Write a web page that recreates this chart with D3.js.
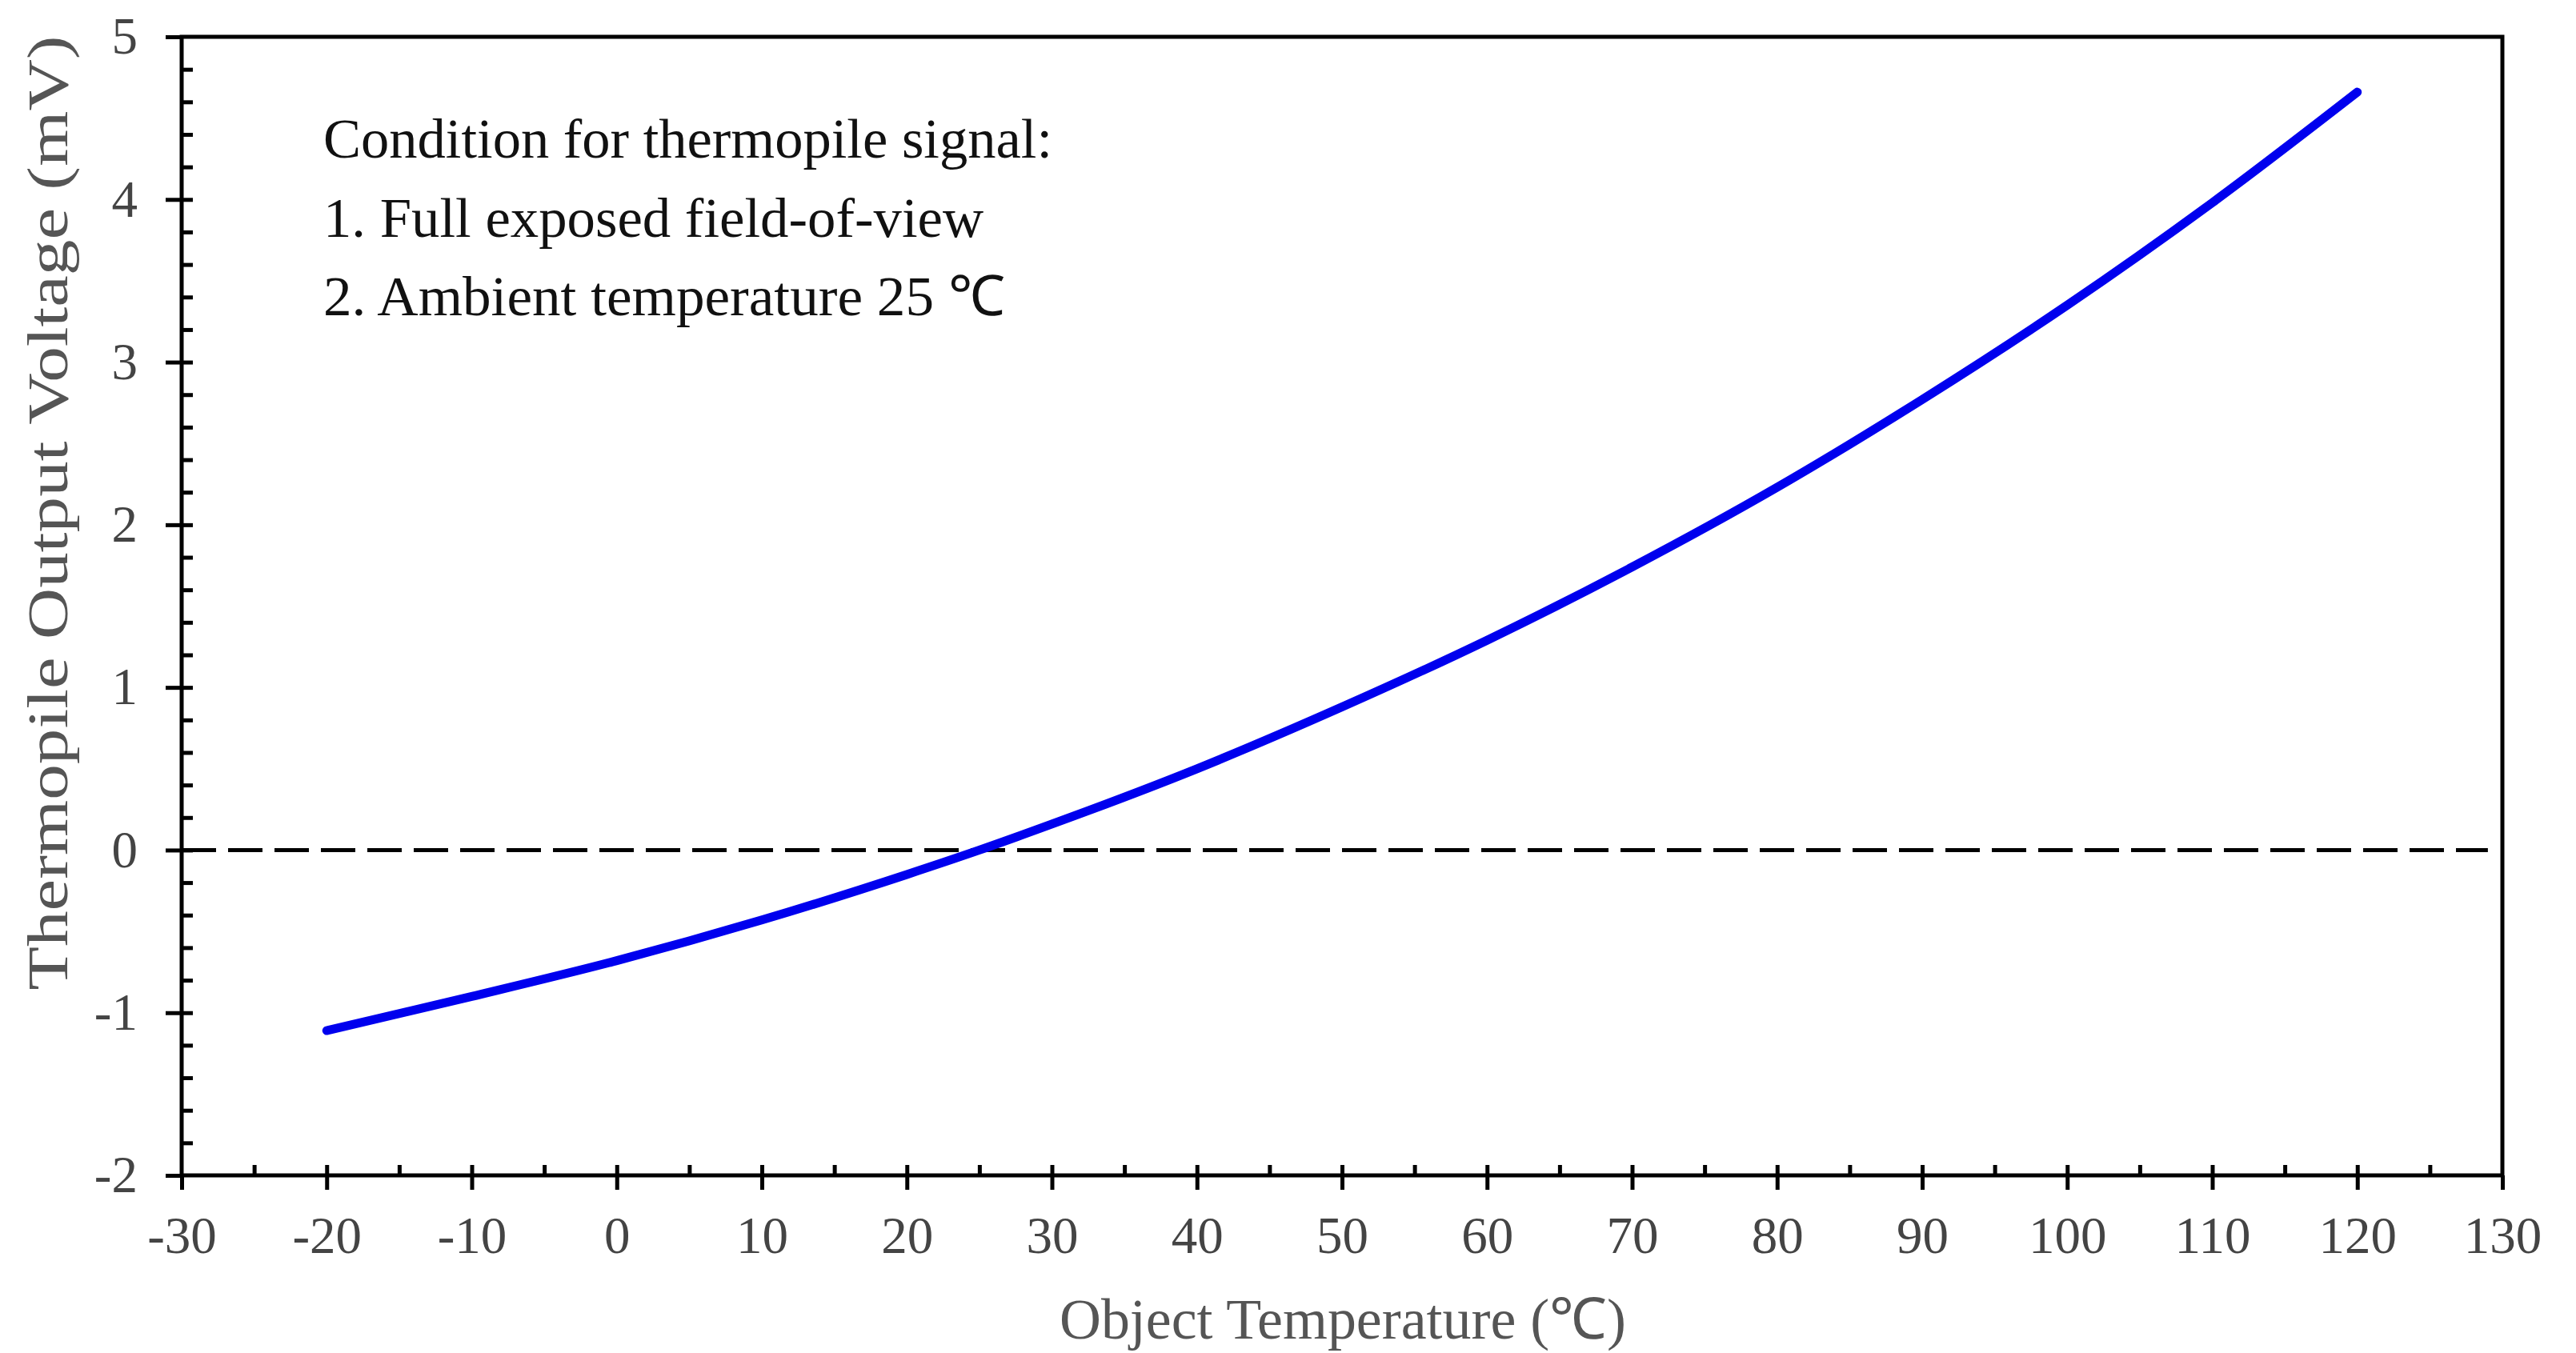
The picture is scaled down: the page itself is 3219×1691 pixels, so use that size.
<!DOCTYPE html>
<html><head><meta charset="utf-8">
<script src="https://cdn.jsdelivr.net/npm/d3@7"></script>
<style>body{margin:0;background:#fff}svg{display:block}</style>
</head><body>
<script>
// ---- data ----
const temps   = [-20, -10, 0, 10, 20, 25, 30, 40, 50, 60, 70, 80, 90, 100, 110, 120];
const voltage = [-1.11, -0.90, -0.68, -0.43, -0.15, 0.0, 0.16, 0.50, 0.88, 1.29, 1.74, 2.23, 2.77, 3.35, 3.98, 4.66];
const xTicks = [-30, -20, -10, 0, 10, 20, 30, 40, 50, 60, 70, 80, 90, 100, 110, 120, 130];
const yTicks = [-2, -1, 0, 1, 2, 3, 4, 5];
const notes = ["Condition for thermopile signal:", "1. Full exposed field-of-view", "2. Ambient temperature 25 \u2103"];
const xTitle = "Object Temperature (\u2103)";
const yTitle = "Thermopile Output Voltage (mV)";

const W = 3219, H = 1691;
const L = 227, R = 3127, T = 46, B = 1469;
const svg = d3.select("body").append("svg").attr("width", W).attr("height", H);

const x = d3.scaleLinear().domain([-30, 130]).range([L, R]);
const y = d3.scaleLinear().domain([-2, 5]).range([B, T]);
const serif = "'Liberation Serif','Times New Roman',serif";
const fmt = d => String(d);

const xMinor = d3.range(-25, 130, 10);
const yMinor = d3.range(-2, 5.001, 0.2).filter(v => Math.abs(v - Math.round(v)) > 1e-6);

function styleAxis(g) {
  g.select(".domain").remove();
  g.selectAll(".tick line").attr("stroke", "#000").attr("stroke-width", 5);
}

// x axis: outward major ticks with labels
svg.append("g").attr("transform", `translate(0,${B})`)
  .call(d3.axisBottom(x).tickValues(xTicks).tickSize(18).tickPadding(0).tickFormat(fmt))
  .call(styleAxis)
  .call(g => g.selectAll("text").attr("dy", null).attr("y", 97)
    .attr("font-family", serif).attr("font-size", 65).attr("fill", "#444"));
// x inward ticks
svg.append("g").attr("transform", `translate(0,${B})`)
  .call(d3.axisBottom(x).tickValues(xTicks.concat(xMinor).filter(v => v > -30 && v < 130)).tickSize(-13).tickFormat(""))
  .call(styleAxis);

// y axis
svg.append("g").attr("transform", `translate(${L},0)`)
  .call(d3.axisLeft(y).tickValues(yTicks).tickSize(20).tickPadding(35).tickFormat(fmt))
  .call(styleAxis)
  .call(g => g.selectAll("text").attr("font-family", serif).attr("font-size", 65).attr("fill", "#444"));
svg.append("g").attr("transform", `translate(${L},0)`)
  .call(d3.axisLeft(y).tickValues(yTicks.concat(yMinor).filter(v => v > -2 && v < 5)).tickSize(-14).tickFormat(""))
  .call(styleAxis);

// frame
svg.append("rect").attr("x", L).attr("y", T).attr("width", R - L).attr("height", B - T)
  .attr("fill", "none").attr("stroke", "#000").attr("stroke-width", 5);

// zero dashed line
svg.append("line").attr("x1", x(-30)).attr("x2", x(129)).attr("y1", y(0)).attr("y2", y(0))
  .attr("stroke", "#000").attr("stroke-width", 5).attr("stroke-dasharray", "43,15");

// curve
const pts = temps.map((t, i) => [t, voltage[i]]);
svg.append("path").datum(pts)
  .attr("d", d3.line().x(d => x(d[0])).y(d => y(d[1])).curve(d3.curveMonotoneX))
  .attr("fill", "none").attr("stroke", "#0000ee").attr("stroke-width", 11).attr("stroke-linecap", "round");

// annotation
const noteLens = [911, 825, 852];
notes.forEach((t, i) => {
  svg.append("text").attr("x", 404).attr("y", 197 + i * 98.5)
    .attr("font-family", serif).attr("font-size", 70).attr("fill", "#111")
    .attr("textLength", noteLens[i]).attr("lengthAdjust", "spacingAndGlyphs").text(t);
});

// axis titles
svg.append("text").attr("x", 1678).attr("y", 1673).attr("text-anchor", "middle")
  .attr("font-family", serif).attr("font-size", 72).attr("fill", "#555")
  .attr("textLength", 708).attr("lengthAdjust", "spacingAndGlyphs").text(xTitle);
svg.append("text").attr("transform", "translate(84,641) rotate(-90)").attr("text-anchor", "middle")
  .attr("font-family", serif).attr("font-size", 72).attr("fill", "#555")
  .attr("textLength", 1193).attr("lengthAdjust", "spacingAndGlyphs").text(yTitle);
</script>
</body></html>
